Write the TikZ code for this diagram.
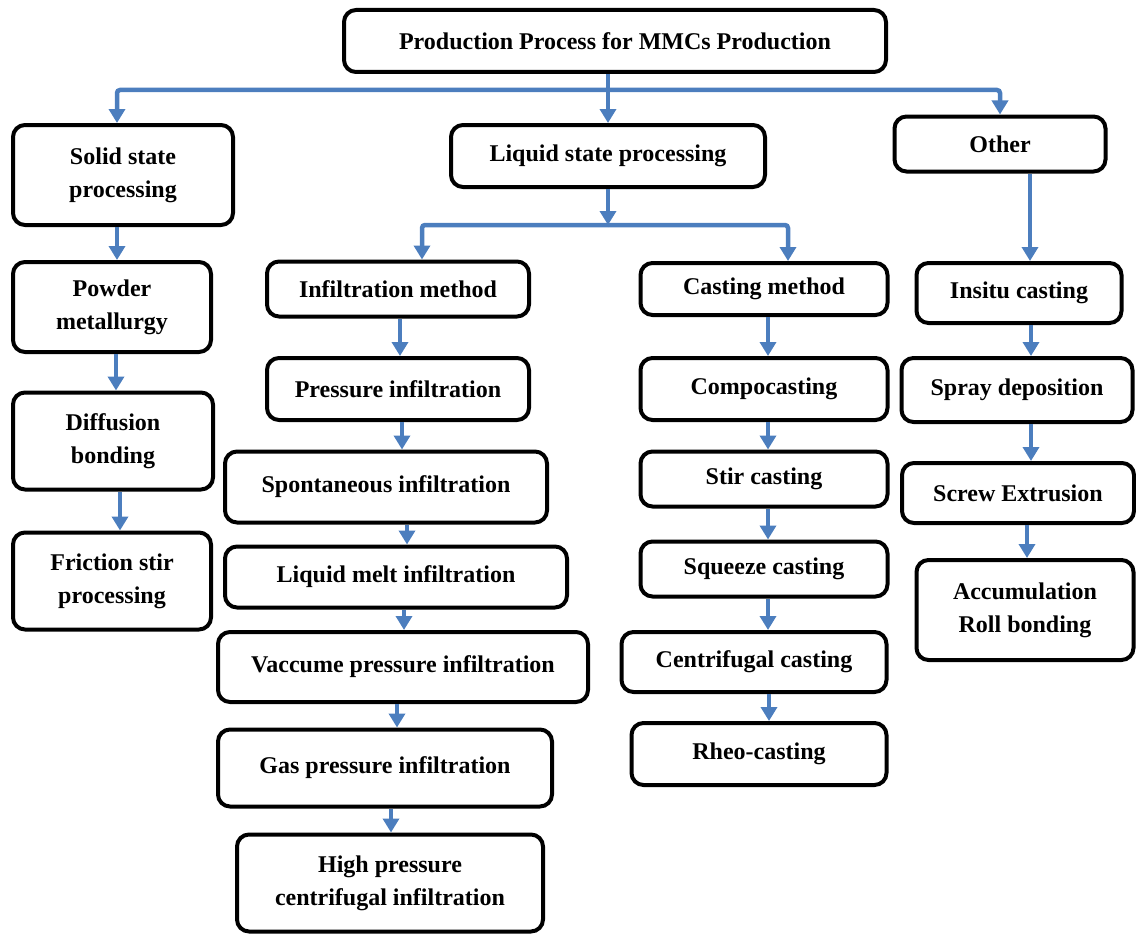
\documentclass[tikz,border=0pt]{standalone}
\usepackage{fontspec}
\setmainfont{Liberation Serif}
\usetikzlibrary{arrows.meta}

\definecolor{flowblue}{RGB}{76,126,190}

\tikzset{
  box/.style={draw=black, line width=4pt, rounded corners=12pt, align=center, inner sep=0pt,
    font=\fontsize{24}{33}\selectfont\bfseries},
  link/.style={draw=flowblue, line width=4.5pt, rounded corners=3pt, -{Triangle[width=16pt,length=14pt]}},
}

\begin{document}
\begin{tikzpicture}[x=1pt,y=1pt,yscale=-1]
\useasboundingbox (0,0) rectangle (1136,934);

% Top box
\node[box, minimum width=542, minimum height=62] (top) at (615,41) {Production Process for MMCs Production};

% Second level
\node[box, minimum width=220, minimum height=100] (solid) at (123,175) {Solid state\\processing};
\node[box, minimum width=314, minimum height=62] (liquid) at (608,156) {Liquid state processing};
\node[box, minimum width=211, minimum height=55] (other) at (1000,144) {Other};

% Solid state column
\node[box, minimum width=198, minimum height=90] (powder) at (112,307) {Powder\\metallurgy};
\node[box, minimum width=200, minimum height=97] (diffusion) at (113,441) {Diffusion\\bonding};
\node[box, minimum width=198, minimum height=97] (friction) at (112,581) {Friction stir\\processing};

% Infiltration column
\node[box, minimum width=262, minimum height=55] (infil) at (398,289) {Infiltration method};
\node[box, minimum width=262, minimum height=62] (pinf) at (398,389) {Pressure infiltration};
\node[box, minimum width=322, minimum height=71] (spont) at (386,487) {Spontaneous infiltration};
\node[box, minimum width=342, minimum height=61] (melt) at (396,577) {Liquid melt infiltration};
\node[box, minimum width=370, minimum height=70] (vacc) at (403,667) {Vaccume pressure infiltration};
\node[box, minimum width=334, minimum height=77] (gas) at (385,768) {Gas pressure infiltration};
\node[box, minimum width=306, minimum height=97] (high) at (390,883) {High pressure\\centrifugal infiltration};

% Casting column
\node[box, minimum width=247, minimum height=52] (casting) at (764,289) {Casting method};
\node[box, minimum width=247, minimum height=62] (compo) at (764,389) {Compocasting};
\node[box, minimum width=247, minimum height=55] (stir) at (764,479) {Stir casting};
\node[box, minimum width=247, minimum height=55] (squeeze) at (764,569) {Squeeze casting};
\node[box, minimum width=265, minimum height=60] (centri) at (754,662) {Centrifugal casting};
\node[box, minimum width=255, minimum height=62] (rheo) at (759,754) {Rheo-casting};

% Other column
\node[box, minimum width=205, minimum height=60] (insitu) at (1019,293) {Insitu casting};
\node[box, minimum width=231, minimum height=64] (spray) at (1017,390) {Spray deposition};
\node[box, minimum width=232, minimum height=60] (screw) at (1018,493) {Screw Extrusion};
\node[box, minimum width=217, minimum height=100] (accum) at (1025,610) {Accumulation\\Roll bonding};

% Branch lines
\coordinate (bus1) at (608,90);
\coordinate (bus2) at (608,225);
\draw[link] (top.south -| liquid.north) -- (liquid.north);
\draw[link] (bus1) -| ([xshift=-6]solid.north);
\draw[link] (bus1) -| (other.north);
\draw[link] (liquid.south) -- (bus2);
\draw[link] (bus2) -| ([xshift=24]infil.north);
\draw[link] (bus2) -| ([xshift=24]casting.north);
\draw[link] ([xshift=30]other.south) -- ([xshift=30]other.south |- insitu.north);

% Solid state arrows
\draw[link] ([xshift=-6]solid.south) -- ([xshift=-6]solid.south |- powder.north);
\draw[link] ([xshift=4]powder.south) -- ([xshift=4]powder.south |- diffusion.north);
\draw[link] ([xshift=7]diffusion.south) -- ([xshift=7]diffusion.south |- friction.north);

% Infiltration arrows
\draw[link] ([xshift=2]infil.south) -- ([xshift=2]infil.south |- pinf.north);
\draw[link] ([xshift=4]pinf.south) -- ([xshift=4]pinf.south |- spont.north);
\draw[link] ([xshift=21]spont.south) -- ([xshift=21]spont.south |- melt.north);
\draw[link] ([xshift=8]melt.south) -- ([xshift=8]melt.south |- vacc.north);
\draw[link] ([xshift=-6]vacc.south) -- ([xshift=-6]vacc.south |- gas.north);
\draw[link] ([xshift=6]gas.south) -- ([xshift=6]gas.south |- high.north);

% Casting arrows
\draw[link] ([xshift=4]casting.south) -- ([xshift=4]casting.south |- compo.north);
\draw[link] ([xshift=4]compo.south) -- ([xshift=4]compo.south |- stir.north);
\draw[link] ([xshift=4]stir.south) -- ([xshift=4]stir.south |- squeeze.north);
\draw[link] ([xshift=4]squeeze.south) -- ([xshift=4]squeeze.south |- centri.north);
\draw[link] ([xshift=15]centri.south) -- ([xshift=15]centri.south |- rheo.north);

% Other arrows
\draw[link] ([xshift=12]insitu.south) -- ([xshift=12]insitu.south |- spray.north);
\draw[link] ([xshift=14]spray.south) -- ([xshift=14]spray.south |- screw.north);
\draw[link] ([xshift=9]screw.south) -- ([xshift=9]screw.south |- accum.north);
\end{tikzpicture}
\end{document}
